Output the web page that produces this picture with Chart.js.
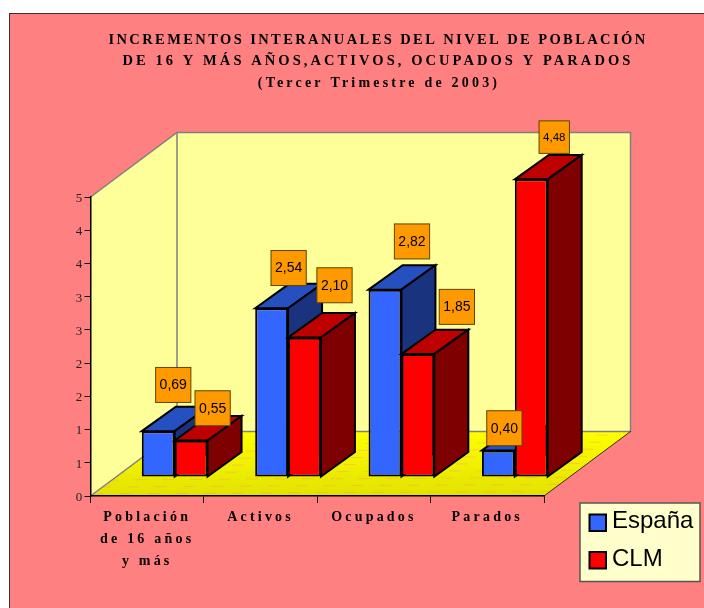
<!DOCTYPE html>
<html lang="es">
<head>
<meta charset="utf-8">
<title>Incrementos interanuales</title>
<script src="https://cdn.jsdelivr.net/npm/chart.js@4"></script>
<style>
  html, body { margin: 0; padding: 0; background: #fff; }
  canvas { display: block; }
</style>
</head>
<body>
<canvas id="chart" width="704" height="608"></canvas>
<script>
const titleLines = [
  "INCREMENTOS INTERANUALES DEL NIVEL DE POBLACIÓN",
  "DE 16 Y MÁS AÑOS,ACTIVOS, OCUPADOS Y PARADOS",
  "(Tercer Trimestre de 2003)",
];
const categories = [["Población", "de 16 años", "y más"], "Activos", "Ocupados", "Parados"];
const espana = [0.69, 2.54, 2.82, 0.4];
const clm = [0.55, 2.1, 1.85, 4.48];
const seriesNames = ["España", "CLM"];

// hand placed value boxes in the original, relative to the centre of each bar top
const espanaLabelShift = [[-2, -34], [0, -28], [10, -36], [-11, -10]];
const clmLabelShift = [[4.5, -20], [13, -40], [22, -35], [6, -30]];
const clmLabelFont = [14, 14, 14, 11.5];

const depth = { x: 86.5, y: 64.5 };
const barShift = { x: 27.5, y: 19 };
const barDepth = { x: 34, y: 24.4 };

function poly(ctx, pts, fill, stroke, width) {
  ctx.beginPath();
  pts.forEach((p, i) => (i ? ctx.lineTo(p[0], p[1]) : ctx.moveTo(p[0], p[1])));
  ctx.closePath();
  if (fill) {
    ctx.fillStyle = fill;
    ctx.fill();
  }
  if (stroke) {
    ctx.strokeStyle = stroke;
    ctx.lineWidth = width;
    ctx.lineJoin = "miter";
    ctx.stroke();
  }
}

function drawBars(chart) {
  let ctx = chart.ctx;

  // blue first: the red top has to sit on the blue side, chart.js would paint them the other way round
  chart.data.datasets.forEach((ds, d) => {
    let meta = chart.getDatasetMeta(d);
    ctx.save();
    ctx.translate(barShift.x, -barShift.y);
    meta.data.forEach((bar) => {
      let l = bar.x - bar.width / 2;
      let r = bar.x + bar.width / 2;
      poly(ctx, [[l, bar.y], [l + barDepth.x, bar.y - barDepth.y], [r + barDepth.x, bar.y - barDepth.y], [r, bar.y]],
        ds.topColor, "#000", 2);
      poly(ctx, [[r, bar.y], [r + barDepth.x, bar.y - barDepth.y], [r + barDepth.x, bar.base - barDepth.y], [r, bar.base]],
        ds.sideColor, "#000", 2);
    });
    meta.controller.draw();
    ctx.restore();
  });
}

function drawValueBoxes(chart) {
  let ctx = chart.ctx;

  chart.data.datasets.forEach((ds, d) => {
    chart.getDatasetMeta(d).data.forEach((bar, i) => {
      let size = d === 1 ? clmLabelFont[i] : 14;
      let shift = d === 1 ? clmLabelShift[i] : espanaLabelShift[i];
      let text = ds.data[i].toFixed(2).replace(".", ",");
      let cx = bar.x + barShift.x + barDepth.x / 2 + shift[0];
      let cy = bar.y - barShift.y - barDepth.y / 2 + shift[1];

      ctx.font = size + "px 'Liberation Sans'";
      let w = ctx.measureText(text).width + 8;
      let h = size + 21;
      ctx.fillStyle = "#ff9900";
      ctx.strokeStyle = "#5c4400";
      ctx.lineWidth = 1;
      ctx.fillRect(cx - w / 2, cy - h / 2, w, h);
      ctx.strokeRect(cx - w / 2, cy - h / 2, w, h);
      ctx.fillStyle = "#000";
      ctx.textAlign = "center";
      ctx.textBaseline = "middle";
      ctx.fillText(text, cx, cy + 0.5);
    });
  });
}

function drawLegend(chart) {
  let ctx = chart.ctx;

  ctx.fillStyle = "#ffffcc";
  ctx.strokeStyle = "#555";
  ctx.lineWidth = 1.5;
  ctx.fillRect(580, 503, 120, 78.5);
  ctx.strokeRect(580, 503, 120, 78.5);
  ctx.font = "24px 'Liberation Sans'";
  ctx.textAlign = "left";
  ctx.textBaseline = "alphabetic";
  chart.data.datasets.forEach((ds, d) => {
    let y = 514.5 + d * 37.5;
    ctx.fillStyle = ds.backgroundColor;
    ctx.strokeStyle = "#000";
    ctx.lineWidth = 2;
    ctx.fillRect(589.5, y, 16.5, 16.5);
    ctx.strokeRect(589.5, y, 16.5, 16.5);
    ctx.fillStyle = "#000";
    ctx.fillText(ds.label, 612, y + 13.5);
  });
}

const scene = {
  id: "scene",
  beforeDraw(chart) {
    let ctx = chart.ctx;
    let { left, right, top, bottom } = chart.chartArea;

    ctx.save();
    ctx.fillStyle = "#ff8080";
    ctx.fillRect(9.5, 13.5, 704, 608);
    ctx.strokeStyle = "#333";
    ctx.lineWidth = 1;
    ctx.strokeRect(9.5, 13.5, 704, 608);

    ctx.fillStyle = "#000";
    ctx.textAlign = "center";
    ctx.textBaseline = "alphabetic";
    ctx.font = "bold 14.5px 'Liberation Serif'";
    ctx.letterSpacing = "2.4px";
    ctx.fillText(titleLines[0], 378, 44);
    ctx.letterSpacing = "3.07px";
    ctx.fillText(titleLines[1], 378, 65);
    ctx.font = "bold 14px 'Liberation Serif'";
    ctx.letterSpacing = "3.2px";
    ctx.fillText(titleLines[2], 379, 87);
    ctx.restore();

    let backL = left + depth.x;
    let backR = right + depth.x;
    let backT = top - depth.y;
    let backB = bottom - depth.y;
    let floorPts = [[left, bottom], [backL, backB], [backR, backB], [right, bottom]];

    poly(ctx, [[left, top], [backL, backT], [backL, backB], [left, bottom]], "#ffff99");
    poly(ctx, [[backL, backT], [backR, backT], [backR, backB], [backL, backB]], "#ffff99");

    let floor = ctx.createLinearGradient(0, backB, 0, bottom);
    floor.addColorStop(0, "#ffff00");
    floor.addColorStop(1, "#e2e200");
    poly(ctx, floorPts, floor);

    // faint pink dither of the floor fill
    ctx.save();
    poly(ctx, floorPts);
    ctx.clip();
    ctx.strokeStyle = "rgba(255, 128, 128, 0.3)";
    ctx.lineWidth = 1;
    ctx.setLineDash([12, 16]);
    for (let y = backB + 5; y < bottom; y += 7) {
      ctx.lineDashOffset = y * 5;
      ctx.beginPath();
      ctx.moveTo(left, y + 1.5);
      ctx.lineTo(backR, y - 1.5);
      ctx.stroke();
    }
    ctx.restore();

    ctx.lineCap = "square";
    ctx.strokeStyle = "#808080";
    ctx.lineWidth = 1.5;
    ctx.beginPath();
    ctx.moveTo(left, top);
    ctx.lineTo(backL, backT);
    ctx.lineTo(backR, backT);
    ctx.lineTo(backR, backB);
    ctx.lineTo(backL, backB);
    ctx.lineTo(left, bottom);
    ctx.moveTo(backL, backT);
    ctx.lineTo(backL, backB);
    ctx.stroke();
    ctx.strokeStyle = "#333300";
    ctx.lineWidth = 1;
    ctx.beginPath();
    ctx.moveTo(right, bottom);
    ctx.lineTo(backR, backB);
    ctx.stroke();
    ctx.lineCap = "butt";

    // the x tick labels are spaced out, the scale has no option for it
    ctx.letterSpacing = "3.2px";
  },
  beforeDatasetsDraw(chart) {
    chart.ctx.letterSpacing = "0px";
    drawBars(chart);
    drawValueBoxes(chart);
    drawLegend(chart);
    return false;
  },
};

new Chart(document.getElementById("chart"), {
  type: "bar",
  plugins: [scene],
  data: {
    labels: categories,
    datasets: [
      {
        label: seriesNames[0],
        data: espana,
        backgroundColor: "#3366ff",
        topColor: "#2650bf",
        sideColor: "#1a337f",
        borderColor: "#000",
        borderWidth: 2,
        borderSkipped: false,
      },
      {
        label: seriesNames[1],
        data: clm,
        backgroundColor: "#ff0000",
        topColor: "#bf0000",
        sideColor: "#7f0000",
        borderColor: "#000",
        borderWidth: 2,
        borderSkipped: false,
      },
    ],
  },
  options: {
    responsive: false,
    animation: false,
    devicePixelRatio: 1,
    layout: { padding: { left: 0, top: 197, right: 160, bottom: 0 } },
    categoryPercentage: 0.58,
    barPercentage: 1,
    plugins: {
      legend: { display: false },
      title: { display: false },
      tooltip: { enabled: false },
    },
    scales: {
      x: {
        afterFit: (scale) => {
          scale.height = 112;
        },
        grid: {
          drawOnChartArea: false,
          tickLength: 7,
          tickColor: "#000",
        },
        border: { color: "#000", width: 1.5 },
        ticks: {
          autoSkip: false,
          maxRotation: 0,
          padding: 3,
          color: "#000",
          font: { family: "'Liberation Serif'", size: 14, weight: "bold", lineHeight: 1.57 },
        },
      },
      y: {
        min: 0,
        max: 4.5,
        afterFit: (scale) => {
          scale.width = 90.5;
        },
        grid: {
          drawOnChartArea: false,
          tickLength: 6,
          tickColor: "#000",
        },
        border: { color: "#000", width: 1.5 },
        ticks: {
          stepSize: 0.5,
          padding: -1,
          labelOffset: 1.5,
          color: "#222",
          font: { family: "'Liberation Serif'", size: 13 },
          callback: (v) => Math.round(v),
        },
      },
    },
  },
});
</script>
</body>
</html>
